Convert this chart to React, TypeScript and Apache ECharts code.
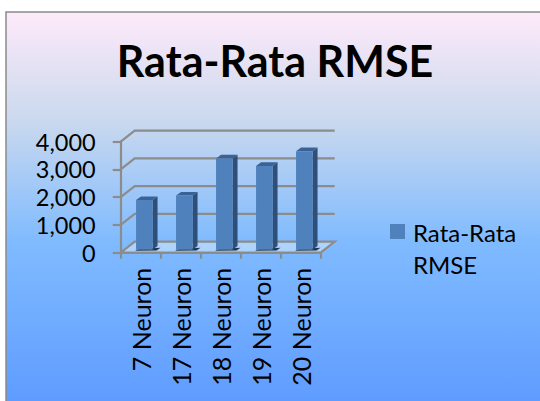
import React, { useEffect, useRef } from "react";
import * as echarts from "echarts";

const titleText = "Rata-Rata RMSE";
const seriesName = "Rata-Rata RMSE";
const categories = ["7 Neuron", "17 Neuron", "18 Neuron", "19 Neuron", "20 Neuron"];
const values = [1790, 1950, 3290, 3020, 3550];
const gridTicks = [0, 1000, 2000, 3000, 4000];

const DX = 14;
const DY = -11;

function frameItem(params: any, api: any) {
  const cs = params.coordSys;
  const v = api.value(1);
  const y = api.coord([0, v])[1];
  const x0 = cs.x;
  const x1 = cs.x + cs.width;
  const ln = { stroke: "#8c8c8c", lineWidth: 2.2, fill: "none" };
  const children: any[] = [];
  if (v === 0) {
    children.push({
      type: "polygon",
      shape: { points: [[x0, y], [x0 + DX, y + DY], [x1 + DX, y + DY], [x1, y]] },
      style: { fill: "rgba(190,220,252,0.75)", stroke: "#8c8c8c", lineWidth: 2.2 },
    });
  } else {
    children.push({
      type: "polyline",
      shape: { points: [[x0, y], [x0 + DX, y + DY], [x1 + DX, y + DY]] },
      style: ln,
    });
  }
  return { type: "group", children };
}

function barItem(_params: any, api: any) {
  const i = api.value(0);
  const [cx, top0] = api.coord([i, api.value(1)]);
  const base0 = api.coord([i, 0])[1];
  const w = 16.5;
  const lift = 3;
  const sx = 5;
  const sy = -3.6;
  const xl = cx + 3.6 - w / 2;
  const xr = xl + w;
  const top = top0 - lift;
  const base = base0 - lift;
  return {
    type: "group",
    children: [
      {
        type: "polygon",
        shape: { points: [[xl - 1, base + 1], [xl + 3, base - 1], [xr + 8, base - 2], [xr + 4, base + 0.8]] },
        style: { fill: "#23364f" },
      },
      {
        type: "polygon",
        shape: { points: [[xr, top], [xr + sx, top + sy], [xr + sx, base + sy], [xr, base]] },
        style: { fill: "#304f78" },
      },
      {
        type: "polygon",
        shape: { points: [[xl, top], [xl + sx, top + sy], [xr + sx, top + sy], [xr, top]] },
        style: { fill: "#3a6295" },
      },
      {
        type: "rect",
        shape: { x: xl, y: top, width: w, height: base - top },
        style: { fill: "#4f81bd" },
      },
    ],
  };
}

export default function App() {
  const ref = useRef<HTMLDivElement>(null);
  useEffect(() => {
    document.body.style.margin = "0";
    const chart = echarts.init(ref.current!, null, { renderer: "svg" });
    chart.setOption({
      animation: false,
      textStyle: { fontFamily: "Lato" },
      title: {
        text: titleText,
        left: 275,
        top: 34,
        textAlign: "center",
        textStyle: { fontFamily: "Lato", fontWeight: "bold", fontSize: 43, color: "#000" },
      },
      graphic: [
        {
          type: "rect",
          z: -10,
          silent: true,
          shape: { x: 6, y: 12, width: 540, height: 395 },
          style: {
            stroke: "#8a8a8a",
            lineWidth: 1.5,
            fill: {
              type: "linear",
              x: 0,
              y: 0,
              x2: 0,
              y2: 1,
              colorStops: [
                { offset: 0, color: "#feeafa" },
                { offset: 0.27, color: "#cbd9ee" },
                { offset: 0.58, color: "#80bbff" },
                { offset: 1, color: "#5e9bff" },
              ],
            },
          },
        },
      ],
      legend: {
        left: 390,
        top: 216,
        orient: "vertical",
        data: [seriesName],
        itemWidth: 18,
        itemHeight: 48,
        itemGap: 0,
        padding: 0,
        icon: "path://M0 0H15V15H0ZM18 48H18.01V48.01Z",
        selectedMode: false,
        formatter: (n: string) => n.replace(" ", "\n"),
        textStyle: { fontFamily: "Lato", fontSize: 24, lineHeight: 32, color: "#000" },
      },
      grid: { left: 120.7, top: 141.7, width: 200, height: 111, containLabel: false },
      xAxis: {
        type: "category",
        data: categories,
        boundaryGap: true,
        axisLine: { show: true, lineStyle: { color: "#8c8c8c", width: 2.2 } },
        axisTick: { show: true, alignWithLabel: false, length: 6, lineStyle: { color: "#8c8c8c", width: 2.2 } },
        axisLabel: { interval: 0, rotate: 90, fontSize: 25, color: "#000", fontFamily: "Lato", margin: 15 },
      },
      yAxis: {
        type: "value",
        min: 0,
        max: 4000,
        interval: 1000,
        splitLine: { show: false },
        axisLine: { show: true, lineStyle: { color: "#8c8c8c", width: 2.2 } },
        axisTick: { show: true, length: 8, lineStyle: { color: "#8c8c8c", width: 2.2 } },
        axisLabel: {
          fontSize: 23.5,
          color: "#000",
          fontFamily: "Lato",
          margin: 25,
          formatter: (v: number) => v.toLocaleString("en-US"),
        },
      },
      series: [
        {
          type: "custom",
          silent: true,
          clip: false,
          z: 1,
          renderItem: frameItem,
          encode: { x: 0, y: 1 },
          data: gridTicks.map((v) => [0, v]),
        },
        {
          type: "custom",
          name: seriesName,
          clip: false,
          z: 3,
          itemStyle: { color: "#4f81bd" },
          renderItem: barItem,
          encode: { x: 0, y: 1 },
          data: values.map((v, i) => [i, v]),
        },
      ],
    });
    const titleEl = chart.getOption();
    void titleEl;
    chart.setOption({ title: { left: 270 } });
    return () => chart.dispose();
  }, []);
  return <div ref={ref} style={{ width: 540, height: 401, overflow: "hidden" }} />;
}
